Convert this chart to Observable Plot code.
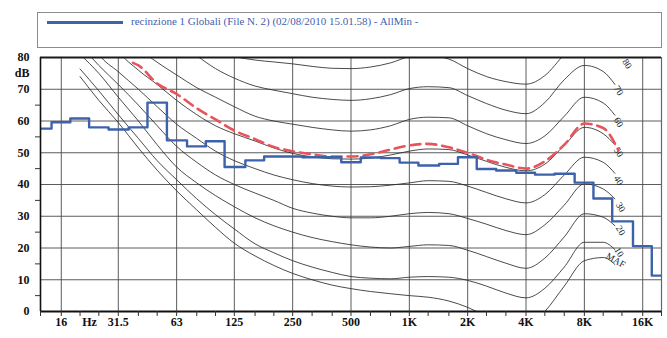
<!DOCTYPE html>
<html>
<head>
<meta charset="utf-8">
<script src="https://cdn.jsdelivr.net/npm/d3@7"></script>
<script src="https://cdn.jsdelivr.net/npm/@observablehq/plot@0.6"></script>
<style>
  body { margin: 0; background: #fff; }
  #wrap { position: relative; width: 667px; height: 338px; }
  #legend {
    position: absolute; left: 37px; top: 12px; width: 625px; height: 36px;
    border: 1px solid #8c8c8c; box-sizing: border-box; background: #fff;
    font-family: "Liberation Serif", "DejaVu Serif", serif; font-size: 11px; color: #3f5fae;
  }
  #legend .swatch { position: absolute; left: 9px; top: 8px; width: 76px; height: 2.5px; background: #3d62ab; }
  #legend .txt { position: absolute; left: 93px; top: 2px; white-space: nowrap; }
</style>
</head>
<body>
<div id="wrap">
  <div id="chart"></div>
  <div id="legend"><div class="swatch"></div><div class="txt" id="legendText"></div></div>
</div>
<script>
// ---------- data ----------
const seriesName = "recinzione 1 Globali (File N. 2) (02/08/2010 15.01.58) - AllMin -";

// third-octave band centres (Hz) and measured AllMin level (dB)
const bandHz = [12.5,16,20,25,31.5,40,50,63,80,100,125,160,200,250,315,400,500,630,800,1000,1250,1600,2000,2500,3150,4000,5000,6300,8000,10000,12500,16000,20000];
const allMinDb = [57.6,59.6,60.8,58.0,57.3,58.0,65.8,53.9,52.0,53.6,45.5,47.6,48.8,48.8,48.6,48.6,47.0,48.5,48.3,46.9,46.0,46.5,48.6,44.9,44.4,43.7,43.1,43.4,40.6,35.6,28.4,20.6,11.3];

// red dashed reference curve
const refHz = [37.5,40,50,63,80,100,125,160,200,250,315,400,500,630,800,1000,1250,1600,2000,2500,3150,4000,5000,6300,8000,10000,12000];
const refDb = [78.3,77.5,71.8,68.5,64,60.5,57,54.3,51.8,50.5,49.5,48.8,48.8,49.5,51,52.3,52.8,51.7,50,47.8,46.3,45,47.3,52.5,59.2,57.8,50.7];

// equal-loudness contours
const contourHz = [20,25,31.5,40,50,63,80,100,125,160,200,250,315,400,500,630,800,1000,1250,1600,2000,2500,3150,4000,5000,6300,8000,10000,11500];
const mafDb   = [74,66.5,59.5,51.5,44.5,38,32,26.5,21.5,17.5,14.5,12,10,8.3,7.2,6.3,5.6,5,4.5,3.3,1.3,-1.5,-4,-5,0,8,16,17,14.8];
const phon10  = [76.4,69.5,62,54.5,47.5,41.5,35.5,30.5,26,21.3,18.5,16,14,12.3,11,10.5,10.3,10.8,11,10.8,9.8,8,5.8,4.3,7.3,14,21.8,21.8,19.5];
const phon20  = [81,75,67.5,60,52.5,45.5,40.5,36.5,33,29.5,27,25,23.3,22,21,20.3,20,20.5,21,20.8,19.3,17.3,15.2,13.6,16.8,23.5,30.8,29.7,27];
const phon30  = [84,77.5,71.5,65,58.5,52,47,43,40,37.3,35,32.5,31,30,29.5,29.5,30,30.8,31.2,30.8,29.3,27.5,25.5,24.2,27.3,33.5,40.2,38.6,35.5];
const phon40  = [92,81,75.5,70,64.5,59,54.5,50.5,47.5,45,43,41.5,40.3,39.5,39.2,39.3,39.8,40.5,41.2,41,39.5,37.5,35.5,34.2,36.8,43,48.6,47,43.5];
const phon50  = [100,92,82,76,71.5,66.5,62,58.5,56,53.7,51.5,49.8,48.7,48.1,48,48.3,49.3,50.5,51.2,51,49.3,47.3,45.4,44.3,46.4,52.3,58,56,52.5];
const phon60  = [110,100,90,83,78.5,74.5,70.5,67.5,64.5,61.5,60,59,58,57.2,56.8,57.2,58.5,60.5,61.2,61,58.5,56,54.1,52.9,55.3,61.5,67.5,65.7,61.8];
const phon70  = [120,110,100,95,90,84.5,80.5,76.5,73.5,71,69.7,68.6,67.5,66.8,66.5,67,68.3,70.2,70.8,70.5,68,65.5,63.4,62.3,65.8,73,77.5,75.6,71.5];
const phon80  = [130,120,110,105,100,95,88,82,80.3,79.2,78.6,78,77.2,76.6,76.5,77,78.3,80.2,80.6,79.5,76.5,74,72.4,71.6,74.3,81,87.5,85.5,80.5];
const contourNames = ["MAF","10","20","30","40","50","60","70","80"];
const contourLevels = [mafDb, phon10, phon20, phon30, phon40, phon50, phon60, phon70, phon80];
const labelHz = [11600,12100,12300,12300,12000,12000,12000,12000,13300];
const labelDb = [16.1,18.7,25.5,32.9,41.3,50.2,59.6,69.6,78.0];

// axis ticks
const octaveHz = [16,31.5,63,125,250,500,1000,2000,4000,8000,16000];
const xTickHz = [16,22.4,31.5,63,125,250,500,1000,2000,4000,8000,16000];
const xTickLabels = ["16","Hz","31.5","63","125","250","500","1K","2K","4K","8K","16K"];
const yTickDb = [0,10,20,30,40,50,60,70,75,80];
const yTickLabels = ["0","10","20","30","40","50","60","70","dB","80"];
const yMinorDb = [5,15,25,35,45,55,65];
const gridDb = [10,20,30,40,50,60,70];

// ---------- derived tables ----------
const stepRows = bandHz.map((f, i) => ({f: f / Math.pow(2, 1/6), db: allMinDb[i]}));
stepRows.push({f: bandHz[bandHz.length - 1] * Math.pow(2, 1/6), db: allMinDb[allMinDb.length - 1]});
const refRows = refHz.map((f, i) => ({f, db: refDb[i]}));
const contourRows = contourNames.flatMap((name, k) => contourHz.map((f, i) => ({name, f, db: contourLevels[k][i]})));
const labelRows = contourNames.map((name, k) => ({name, f: labelHz[k], db: labelDb[k]}));
const xTickRows = xTickHz.map((f, i) => ({f, label: xTickLabels[i]}));
const yTickRows = yTickDb.map((db, i) => ({db, label: yTickLabels[i]}));
const xDomain = [bandHz[0], bandHz[bandHz.length - 1]];

document.getElementById("legendText").textContent = seriesName;

const serif = "Liberation Serif, DejaVu Serif, serif";

const chart = Plot.plot({
  width: 667,
  height: 338,
  marginLeft: 40,
  marginRight: 6,
  marginTop: 57,
  marginBottom: 27,
  style: {background: "#fff", fontFamily: serif, color: "#111"},
  x: {type: "log", domain: xDomain, axis: null},
  y: {domain: [0, 80], axis: null},
  marks: [
    Plot.ruleY(gridDb, {stroke: "#4a4a4a", strokeWidth: 0.9}),
    Plot.ruleX(octaveHz, {stroke: "#4a4a4a", strokeWidth: 0.9}),
    Plot.ruleX([xDomain[1]], {stroke: "#666", strokeWidth: 1.2}),
    Plot.line(contourRows, {x: "f", y: "db", z: "name", stroke: "#2b2b2b", strokeWidth: 0.85, curve: "monotone-x", clip: true}),
    Plot.text(labelRows, {x: "f", y: "db", text: "name", rotate: d => d.name === "MAF" ? 30 : 58, fontSize: 9.5, fontFamily: serif, fill: "#222"}),
    Plot.line(refRows, {x: "f", y: "db", stroke: "#e9535c", strokeWidth: 2.6, strokeDasharray: "10,6", curve: "monotone-x", clip: true}),
    Plot.line(stepRows, {x: "f", y: "db", stroke: "#3d62ab", strokeWidth: 2.4, curve: "step-after", clip: true}),
    Plot.ruleY([80], {stroke: "#1a1a1a", strokeWidth: 1.8}),
    Plot.ruleY([0], {stroke: "#111", strokeWidth: 2.2}),
    Plot.ruleX([xDomain[0]], {stroke: "#111", strokeWidth: 1.6}),
    Plot.axisX(bandHz, {tickSize: 5, tickFormat: () => "", stroke: "#333", label: null}),
    Plot.text(xTickRows, {x: "f", text: "label", frameAnchor: "bottom", dy: 14, fontSize: 12, fontWeight: "bold", fontFamily: serif, fill: "#111"}),
    Plot.axisY(yMinorDb, {tickSize: 5, tickFormat: () => "", stroke: "#333", label: null}),
    Plot.text(yTickRows, {y: "db", text: "label", frameAnchor: "left", textAnchor: "end", dx: -11, fontSize: 12, fontWeight: "bold", fontFamily: serif, fill: "#111"})
  ]
});
document.getElementById("chart").appendChild(chart);
</script>
</body>
</html>
